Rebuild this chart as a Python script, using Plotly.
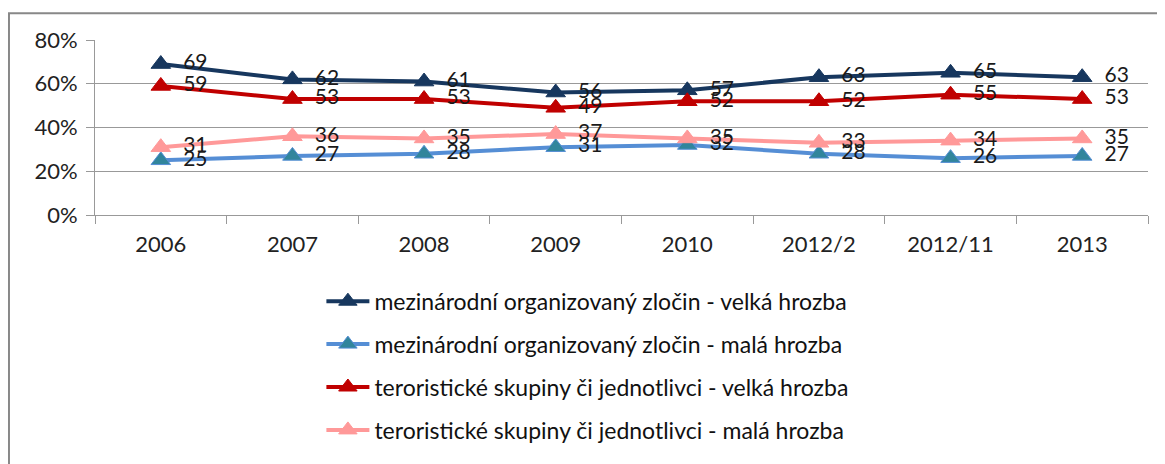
import plotly.graph_objects as go

categories = ["2006", "2007", "2008", "2009", "2010", "2012/2", "2012/11", "2013"]
org_velka = [69, 62, 61, 56, 57, 63, 65, 63]
org_mala = [25, 27, 28, 31, 32, 28, 26, 27]
ter_velka = [59, 53, 53, 49, 52, 52, 55, 53]
ter_mala = [31, 36, 35, 37, 35, 33, 34, 35]
y_ticks = [0, 20, 40, 60, 80]

series = [
    ("mezinárodní organizovaný zločin - velká hrozba", org_velka, "#17375E", "#17375E"),
    ("mezinárodní organizovaný zločin - malá hrozba", org_mala, "#558ED5", "#31859C"),
    ("teroristické skupiny či jednotlivci - velká hrozba", ter_velka, "#C00000", "#C00000"),
    ("teroristické skupiny či jednotlivci - malá hrozba", ter_mala, "#FF9999", "#FF9999"),
]

FONT = "Lato, Carlito, Calibri, sans-serif"

fig = go.Figure()
for i, (name, vals, lc, mc) in enumerate(series):
    fig.add_trace(go.Scatter(
        x=categories, y=vals, name=name, mode="lines+markers+text",
        line=dict(color=lc, width=4),
        marker=dict(symbol="triangle-up", size=17, color=mc,
                    line=dict(color=lc, width=1)),
        text=["  " + str(v) for v in vals], textposition="middle right",
        textfont=dict(family=FONT, size=21, color="#1a1a1a"),
        legendgroup=f"g{i}", cliponaxis=False,
    ))

fig.update_layout(
    width=1157, height=456,
    margin=dict(l=87, r=17, t=32, b=247),
    paper_bgcolor="white", plot_bgcolor="white",
    font=dict(family=FONT, size=22, color="#222"),
    showlegend=True,
    legend=dict(x=0.215, y=-0.37, xanchor="left", yanchor="top",
                font=dict(family=FONT, size=23, color="#111"),
                tracegroupgap=10, traceorder="grouped",
                itemwidth=43, bgcolor="rgba(0,0,0,0)"),
    xaxis=dict(type="category", tickson="boundaries", ticks="outside",
               ticklen=8, tickcolor="#999", showline=True, linecolor="#999",
               linewidth=1, showgrid=False, tickfont=dict(size=22, color="#222"),
               ticklabelstandoff=10, range=[-0.5, 7.5]),
    yaxis=dict(range=[0, 80], tickvals=y_ticks,
               ticktext=[f"{v}%" for v in y_ticks],
               ticks="outside", ticklen=8, tickcolor="#999",
               showline=True, linecolor="#999", linewidth=1,
               showgrid=True, gridcolor="#999", gridwidth=1,
               zeroline=False, tickfont=dict(size=22, color="#222"),
               ticklabelstandoff=4),
    shapes=[dict(type="rect", xref="paper", yref="paper",
                 x0=-0.0817, x1=1.03, y0=-1.45, y1=1.1525,
                 line=dict(color="#888", width=2), layer="below")],
)

fig.write_html("out.html")
